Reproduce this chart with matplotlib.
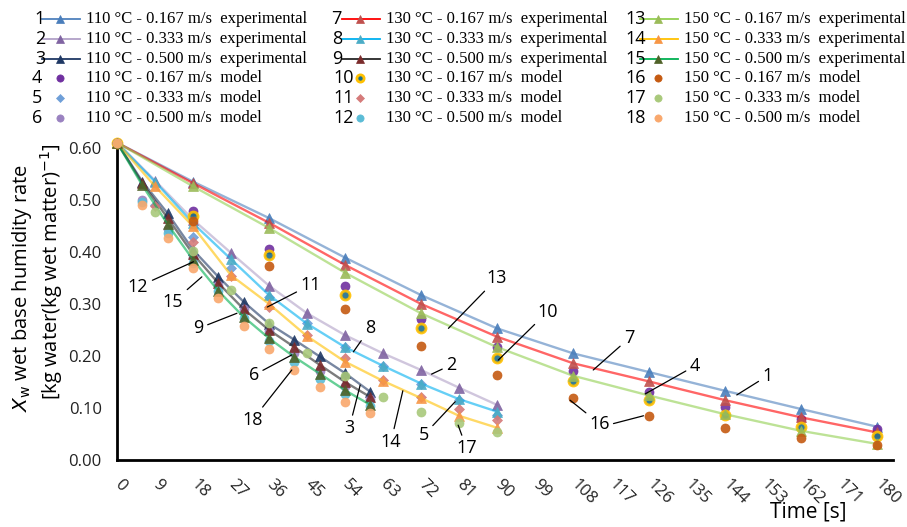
import matplotlib
matplotlib.use("Agg")
import matplotlib.pyplot as plt
from matplotlib.lines import Line2D

# sampling times (s) for the three air velocities
t_167 = [0, 18, 36, 54, 72, 90, 108, 126, 144, 162, 180]
t_333 = [0, 9, 18, 27, 36, 45, 54, 63, 72, 81, 90]
t_500 = [0, 6, 12, 18, 24, 30, 36, 42, 48, 54, 60]

# experimental values
exp_110_167 = [0.61, 0.535, 0.465, 0.389, 0.317, 0.253, 0.205, 0.169, 0.133, 0.098, 0.064]
exp_110_333 = [0.61, 0.537, 0.462, 0.398, 0.335, 0.282, 0.240, 0.205, 0.173, 0.139, 0.106]
exp_110_500 = [0.61, 0.535, 0.474, 0.404, 0.352, 0.304, 0.262, 0.231, 0.199, 0.167, 0.131]
exp_130_167 = [0.61, 0.532, 0.456, 0.375, 0.300, 0.237, 0.186, 0.151, 0.115, 0.082, 0.053]
exp_130_333 = [0.61, 0.535, 0.455, 0.386, 0.317, 0.262, 0.217, 0.181, 0.147, 0.117, 0.093]
exp_130_500 = [0.61, 0.532, 0.465, 0.396, 0.340, 0.290, 0.250, 0.217, 0.183, 0.150, 0.121]
exp_150_167 = [0.61, 0.526, 0.446, 0.360, 0.282, 0.217, 0.162, 0.124, 0.088, 0.056, 0.031]
exp_150_333 = [0.61, 0.526, 0.449, 0.355, 0.300, 0.238, 0.189, 0.152, 0.119, 0.085, 0.062]
exp_150_500 = [0.61, 0.528, 0.453, 0.385, 0.325, 0.275, 0.234, 0.198, 0.166, 0.134, 0.106]

# model values
mod_110_167 = [0.61, 0.479, 0.405, 0.335, 0.271, 0.217, 0.171, 0.130, 0.101, 0.079, 0.059]
mod_110_333 = [0.61, 0.490, 0.429, 0.369, 0.314, 0.263, 0.217, 0.181, 0.147, 0.115, 0.087]
mod_110_500 = [0.61, 0.499, 0.444, 0.391, 0.337, 0.290, 0.247, 0.205, 0.172, 0.143, 0.117]
mod_130_167 = [0.61, 0.469, 0.394, 0.318, 0.253, 0.196, 0.152, 0.115, 0.086, 0.063, 0.047]
mod_130_333 = [0.61, 0.488, 0.419, 0.354, 0.295, 0.240, 0.196, 0.154, 0.122, 0.098, 0.076]
mod_130_500 = [0.61, 0.495, 0.436, 0.379, 0.324, 0.272, 0.229, 0.189, 0.156, 0.127, 0.104]
mod_150_167 = [0.61, 0.460, 0.373, 0.290, 0.220, 0.163, 0.120, 0.085, 0.061, 0.043, 0.029]
mod_150_333 = [0.61, 0.476, 0.401, 0.327, 0.263, 0.206, 0.162, 0.122, 0.093, 0.071, 0.053]
mod_150_500 = [0.61, 0.490, 0.426, 0.369, 0.311, 0.258, 0.213, 0.173, 0.141, 0.112, 0.091]

x_ticks = list(range(0, 181, 9))
y_ticks = [0.0, 0.1, 0.2, 0.3, 0.4, 0.5, 0.6]

# (number, legend text, t, values, line colour, marker, marker colour, marker edge)
series = [
    ("1", "110 °C - 0.167 m/s  experimental", t_167, exp_110_167, "#4F81BD", "^", "#4A7EBB", None),
    ("2", "110 °C - 0.333 m/s  experimental", t_333, exp_110_333, "#B1A0C7", "^", "#8064A2", None),
    ("3", "110 °C - 0.500 m/s  experimental", t_500, exp_110_500, "#1F3864", "^", "#1F3864", None),
    ("4", "110 °C - 0.167 m/s  model", t_167, mod_110_167, None, "o", "#7030A0", None),
    ("5", "110 °C - 0.333 m/s  model", t_333, mod_110_333, None, "D", "#6F9FD8", None),
    ("6", "110 °C - 0.500 m/s  model", t_500, mod_110_500, None, "o", "#9A82C0", None),
    ("7", "130 °C - 0.167 m/s  experimental", t_167, exp_130_167, "#FF0000", "^", "#C0504D", None),
    ("8", "130 °C - 0.333 m/s  experimental", t_333, exp_130_333, "#00B0F0", "^", "#4BACC6", None),
    ("9", "130 °C - 0.500 m/s  experimental", t_500, exp_130_500, "#262626", "^", "#7B2B2B", None),
    ("10", "130 °C - 0.167 m/s  model", t_167, mod_130_167, None, "o", "#1F6F8B", "#FFC000"),
    ("11", "130 °C - 0.333 m/s  model", t_333, mod_130_333, None, "D", "#D57B7A", None),
    ("12", "130 °C - 0.500 m/s  model", t_500, mod_130_500, None, "o", "#5BBCD6", None),
    ("13", "150 °C - 0.167 m/s  experimental", t_167, exp_150_167, "#92D050", "^", "#9BBB59", None),
    ("14", "150 °C - 0.333 m/s  experimental", t_333, exp_150_333, "#FFC000", "^", "#F79646", None),
    ("15", "150 °C - 0.500 m/s  experimental", t_500, exp_150_500, "#00B050", "^", "#4F6228", None),
    ("16", "150 °C - 0.167 m/s  model", t_167, mod_150_167, None, "o", "#C55A11", None),
    ("17", "150 °C - 0.333 m/s  model", t_333, mod_150_333, None, "o", "#A9C97B", None),
    ("18", "150 °C - 0.500 m/s  model", t_500, mod_150_500, None, "o", "#F9A86D", None),
]

W, H = 907, 527
fig = plt.figure(figsize=(W / 100, H / 100), dpi=100)
ax = fig.add_axes([117 / W, 1 - 460 / H, (893 - 117) / W, (460 - 140) / H])


def mstyle(marker, mc, me, legend=False):
    if marker == "^":
        ms = 7.5
    elif marker == "D":
        ms = 5
    else:
        ms = 6.5
    if legend:
        ms *= 0.8
    st = dict(marker=marker, ms=ms, mfc=mc, mec=me if me else mc, mew=2 if me else 0.5)
    return st


for i, (num, lab, t, y, lc, mk, mc, me) in enumerate(series):
    z = 2 + i * 0.1
    if lc:
        ax.plot(t, y, color=lc, lw=1.7, alpha=0.6, zorder=z)
    ax.plot(t, y, ls="none", alpha=0.9, clip_on=False, zorder=z + 0.05, **mstyle(mk, mc, me))

ax.set_xlim(0, 183.8)
ax.set_ylim(0, 0.615)
ax.set_xticks(x_ticks)
ax.set_xticklabels([str(v) for v in x_ticks], rotation=-45, ha="left", va="center",
                   rotation_mode="anchor", fontsize=12, family="Open Sans", color="#222222")
ax.set_yticks(y_ticks)
ax.set_yticklabels([f"{v:.2f}" for v in y_ticks], fontsize=12, family="Open Sans", color="#222222")
ax.tick_params(axis="both", length=0)
ax.tick_params(axis="x", pad=16)
ax.tick_params(axis="y", pad=11)
for sp in ["top", "right"]:
    ax.spines[sp].set_visible(False)
for sp in ["left", "bottom"]:
    ax.spines[sp].set_linewidth(2)
    ax.spines[sp].set_color("black")

# number labels with leader lines
notes = [
    ("12", (18.1, 0.381), (5.0, 0.333)),
    ("15", (20.1, 0.352), (13.3, 0.304)),
    ("9", (28.4, 0.282), (19.3, 0.253)),
    ("6", (41.4, 0.202), (32.4, 0.163)),
    ("18", (41.4, 0.173), (32.1, 0.077)),
    ("11", (35.6, 0.294), (45.9, 0.337)),
    ("8", (56.0, 0.208), (59.9, 0.253)),
    ("13", (78.5, 0.253), (90.0, 0.349)),
    ("10", (90.3, 0.192), (102.0, 0.285)),
    ("2", (74.5, 0.165), (79.2, 0.183)),
    ("3", (57.6, 0.144), (55.0, 0.061)),
    ("14", (67.7, 0.133), (64.9, 0.035)),
    ("5", (80.1, 0.112), (72.7, 0.048)),
    ("17", (80.8, 0.067), (82.8, 0.0225)),
    ("7", (112.8, 0.173), (121.3, 0.234)),
    ("4", (125.1, 0.127), (136.9, 0.181)),
    ("1", (146.8, 0.125), (154.1, 0.162)),
    ("16", (107.3, 0.115), (114.4, 0.069)),
]
for txt, xy, xyt in notes:
    ax.annotate(txt, xy=xy, xytext=xyt, ha="center", va="center", fontsize=13,
                family="Open Sans", zorder=10,
                arrowprops=dict(arrowstyle="-", color="black", lw=0.9, shrinkA=1, shrinkB=0))
ax.annotate("", xy=(124.7, 0.085), xytext=(117.6, 0.070),
            arrowprops=dict(arrowstyle="-", color="black", lw=0.9, shrinkA=0, shrinkB=0))

# axis titles
fig.text(22 / W, 1 - 288 / H, r"$X_{\mathrm{w}}$ wet base humidity rate", rotation=90,
         ha="center", va="center", fontsize=14.5, family="Open Sans")
fig.text(52 / W, 1 - 272 / H, r"[kg water(kg wet matter)$^{-1}$]", rotation=90,
         ha="center", va="center", fontsize=14.5, family="Open Sans")
fig.text(808 / W, 1 - 512 / H, "Time [s]", ha="center", va="center", fontsize=15,
         family="Open Sans")

# legend, drawn by hand: 3 columns x 6 rows
col_mx = [60, 360, 658]
row_y = [19, 39, 59, 78, 98, 118]
num_x = [[45, 45, 45, 42, 42, 42], [342, 342, 342, 354, 354, 354], [646] * 6]
for i, (num, lab, t, y, lc, mk, mc, me) in enumerate(series):
    c, r = divmod(i, 6)
    mx = col_mx[c]
    yy = 1 - row_y[r] / H
    if lc:
        fig.add_artist(Line2D([(mx - 18) / W, (mx + 20) / W], [yy, yy], color=lc, lw=1.3,
                              transform=fig.transFigure))
    fig.add_artist(Line2D([mx / W], [yy], ls="none", transform=fig.transFigure,
                          **mstyle(mk, mc, me, legend=True)))
    fig.text(num_x[c][r] / W, yy, num, ha="right", va="center", fontsize=13,
             family="Open Sans")
    fig.text((mx + 26) / W, yy, lab, ha="left", va="center", fontsize=12,
             family="Liberation Serif")

fig.savefig("out.png", dpi=100)
